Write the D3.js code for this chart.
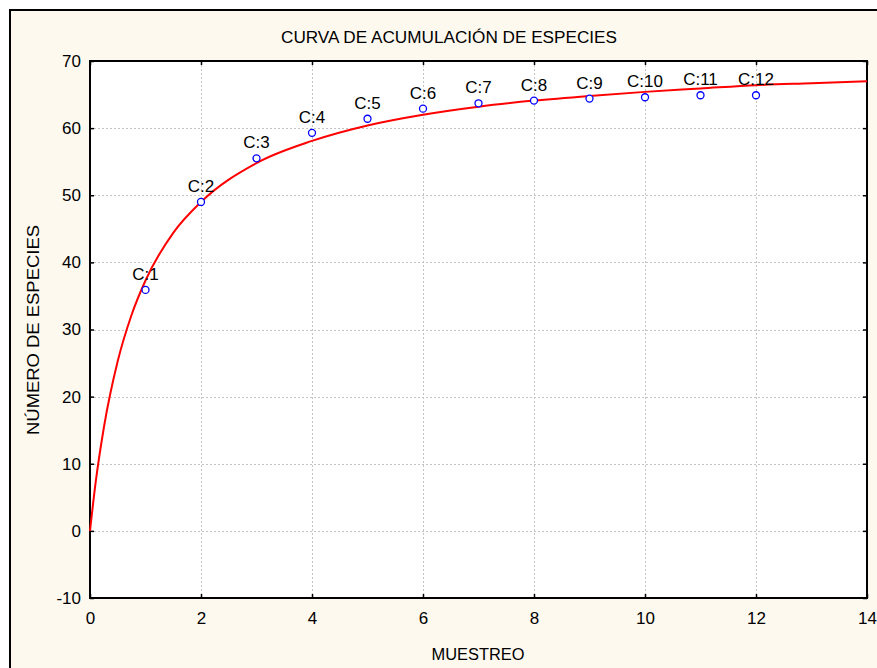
<!DOCTYPE html>
<html>
<head>
<meta charset="utf-8">
<script src="https://cdn.jsdelivr.net/npm/d3@7"></script>
<style>
  html, body { margin: 0; padding: 0; background: #fff; overflow: hidden; }
  svg { display: block; font-family: "Liberation Sans", Arial, sans-serif; }
</style>
</head>
<body>
<svg id="chart" width="877" height="668"></svg>
<script>
'use strict'

// observed samples
var muestreo = [1, 2, 3, 4, 5, 6, 7, 8, 9, 10, 11, 12],
    especies = [35.9, 49.0, 55.5, 59.3, 61.4, 62.9, 63.7, 64.1, 64.4, 64.6, 64.9, 64.9],
    etiquetas = ["C:1", "C:2", "C:3", "C:4", "C:5", "C:6", "C:7", "C:8", "C:9", "C:10", "C:11", "C:12"];

// fitted curve
var curvaX = [0, 0.1, 0.25, 0.5, 0.75, 1, 1.5, 2, 3, 4, 5, 6, 7, 8, 9, 10, 11, 12, 13, 14],
    curvaY = [0, 7.1, 15.4, 25.3, 32.2, 37.3, 44.4, 49.0, 54.8, 58.1, 60.4, 62.0, 63.2, 64.1, 64.8, 65.4, 65.9, 66.4, 66.7, 67.0];

var xTicks = [0, 2, 4, 6, 8, 10, 12, 14],
    yTicks = [-10, 0, 10, 20, 30, 40, 50, 60, 70];

var width = 877,
    height = 668,
    plot = {left: 90, top: 61, right: 867, bottom: 598};

var svg = d3.select("#chart");

// outer panel: only its left and top edges are inside the picture
svg.append("rect")
    .attr("x", 10).attr("y", 10)
    .attr("width", width - 10).attr("height", height - 10)
    .attr("fill", "#fdf9ef");
svg.append("path")
    .attr("d", "M10," + height + "V10H" + width)
    .attr("fill", "none")
    .attr("stroke", "#000")
    .attr("stroke-width", 2);

var x = d3.scaleLinear().domain([0, 14]).range([plot.left, plot.right]);
var y = d3.scaleLinear().domain([-10, 70]).range([plot.bottom, plot.top]);

svg.append("rect")
    .attr("x", plot.left).attr("y", plot.top)
    .attr("width", plot.right - plot.left).attr("height", plot.bottom - plot.top)
    .attr("fill", "#fff");

// grid
var grid = svg.append("g")
    .attr("stroke", "#c4c4c4")
    .attr("stroke-width", 1)
    .attr("stroke-dasharray", "2,2");
grid.selectAll("line.v")
  .data(xTicks.slice(1, -1))
  .enter().append("line")
    .attr("x1", d => Math.round(x(d)) + 0.5).attr("x2", d => Math.round(x(d)) + 0.5)
    .attr("y1", plot.top).attr("y2", plot.bottom);
grid.selectAll("line.h")
  .data(yTicks.slice(1, -1))
  .enter().append("line")
    .attr("y1", d => Math.round(y(d)) + 0.5).attr("y2", d => Math.round(y(d)) + 0.5)
    .attr("x1", plot.left).attr("x2", plot.right);

var fmt = d => String(d);

// axes, ticks pointing inward
svg.append("g")
    .attr("transform", "translate(0," + plot.bottom + ")")
    .call(d3.axisBottom(x).tickValues(xTicks).tickFormat(fmt).tickSizeInner(-4).tickSizeOuter(0).tickPadding(14))
    .call(g => g.select(".domain").remove());
svg.append("g")
    .attr("transform", "translate(0," + plot.top + ")")
    .call(d3.axisTop(x).tickValues(xTicks).tickSizeInner(-4).tickSizeOuter(0).tickFormat(""))
    .call(g => g.select(".domain").remove());
svg.append("g")
    .attr("transform", "translate(" + plot.left + ",0)")
    .call(d3.axisLeft(y).tickValues(yTicks).tickFormat(fmt).tickSizeInner(-4).tickSizeOuter(0).tickPadding(9))
    .call(g => g.select(".domain").remove());
svg.append("g")
    .attr("transform", "translate(" + plot.right + ",0)")
    .call(d3.axisRight(y).tickValues(yTicks).tickSizeInner(-4).tickSizeOuter(0).tickFormat(""))
    .call(g => g.select(".domain").remove());

svg.selectAll(".tick line").attr("stroke", "#000").attr("stroke-width", 1.5);
svg.selectAll(".tick text")
    .attr("font-family", "Liberation Sans, Arial, sans-serif")
    .attr("font-size", 17)
    .attr("fill", "#000");

svg.append("rect")
    .attr("x", plot.left).attr("y", plot.top)
    .attr("width", plot.right - plot.left).attr("height", plot.bottom - plot.top)
    .attr("fill", "none")
    .attr("stroke", "#000")
    .attr("stroke-width", 2);

// fitted curve
var curva = curvaX.map((d, i) => [d, curvaY[i]]);
svg.append("path")
    .datum(curva)
    .attr("fill", "none")
    .attr("stroke", "#ff0000")
    .attr("stroke-width", 2)
    .attr("d", d3.line().x(d => x(d[0])).y(d => y(d[1])).curve(d3.curveMonotoneX));

// points
var pts = muestreo.map((d, i) => ({x: d, y: especies[i], label: etiquetas[i]}));
svg.append("g").selectAll("circle")
  .data(pts)
  .enter().append("circle")
    .attr("cx", d => x(d.x))
    .attr("cy", d => y(d.y))
    .attr("r", 3.5)
    .attr("fill", "#fff")
    .attr("stroke", "#0000ff")
    .attr("stroke-width", 1.3);

svg.append("g").selectAll("text")
  .data(pts)
  .enter().append("text")
    .attr("x", d => x(d.x))
    .attr("y", d => y(d.y) - 10)
    .attr("text-anchor", "middle")
    .attr("font-size", 17)
    .text(d => d.label);

// titles
svg.append("text")
    .attr("x", 449).attr("y", 43)
    .attr("text-anchor", "middle")
    .attr("font-size", 16)
    .attr("textLength", 336)
    .attr("lengthAdjust", "spacingAndGlyphs")
    .text("CURVA DE ACUMULACIÓN DE ESPECIES");

svg.append("text")
    .attr("x", 478).attr("y", 660)
    .attr("text-anchor", "middle")
    .attr("font-size", 16)
    .attr("textLength", 93)
    .attr("lengthAdjust", "spacingAndGlyphs")
    .text("MUESTREO");

svg.append("text")
    .attr("transform", "translate(39,330) rotate(-90)")
    .attr("text-anchor", "middle")
    .attr("font-size", 16)
    .attr("textLength", 210)
    .attr("lengthAdjust", "spacingAndGlyphs")
    .text("NÚMERO DE ESPECIES");
</script>
</body>
</html>
